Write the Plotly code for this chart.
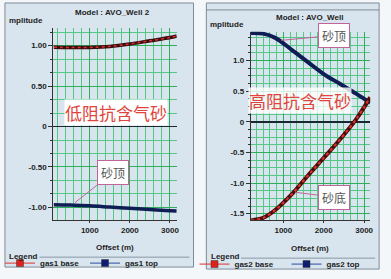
import plotly.graph_objects as go

W, H = 391, 279

# ---------------- data ----------------
offset1 = [100, 500, 1000, 1500, 2000, 2500, 3000, 3170]
gas1_base = [0.98, 0.977, 0.978, 0.99, 1.02, 1.06, 1.10, 1.12]
gas1_top = [-0.965, -0.97, -0.98, -0.995, -1.01, -1.025, -1.04, -1.045]

offset2 = [200, 500, 800, 1200, 1600, 2000, 2400, 2800, 3150]
gas2_top = [1.45, 1.44, 1.37, 1.18, 0.98, 0.78, 0.62, 0.46, 0.31]
gas2_base = [-1.61, -1.57, -1.44, -1.19, -0.885, -0.59, -0.29, 0.04, 0.40]

x_tickvals = [1000, 2000, 3000]
x_ticktext = ["1000", "2000", "3000"]
y1_tickvals = [-1.0, -0.5, 0, 0.5, 1.0]
y1_ticktext = ["-1.00", "-0.50", "0", "0.50", "1.00"]
y2_tickvals = [-1.5, -1.0, -0.5, 0, 0.5, 1.0]
y2_ticktext = ["-1.5", "-1.0", "-0.5", "0", "0.5", "1.0"]

# ---------------- helpers ----------------
def px(x):
    return x / W

def py(y):
    return 1 - y / H

FONT = "Liberation Sans, Arial, sans-serif"
CJK = "Noto Sans CJK SC, sans-serif"
tickfont = dict(family=FONT, size=8, color="#222", weight="bold")

fig = go.Figure()

# left panel curves
fig.add_trace(go.Scatter(x=offset1, y=gas1_base, mode="lines", line=dict(color="#3a0b10", width=3.5, shape="spline"),
                         xaxis="x", yaxis="y", showlegend=False, hoverinfo="skip"))
fig.add_trace(go.Scatter(x=offset1, y=gas1_base, mode="lines", line=dict(color="#d8302a", width=1.5, dash="dot", shape="spline"),
                         xaxis="x", yaxis="y", showlegend=False, hoverinfo="skip"))
fig.add_trace(go.Scatter(x=offset1, y=gas1_top, mode="lines", line=dict(color="#0f1d55", width=3.5, shape="spline"),
                         xaxis="x", yaxis="y", showlegend=False, hoverinfo="skip"))

# right panel curves
fig.add_trace(go.Scatter(x=offset2, y=gas2_top, mode="lines", line=dict(color="#0f1d55", width=4, shape="spline"),
                         xaxis="x2", yaxis="y2", showlegend=False, hoverinfo="skip"))
fig.add_trace(go.Scatter(x=offset2, y=gas2_base, mode="lines", line=dict(color="#4a0d0d", width=4, shape="spline"),
                         xaxis="x2", yaxis="y2", showlegend=False, hoverinfo="skip"))
fig.add_trace(go.Scatter(x=offset2, y=gas2_base, mode="lines", line=dict(color="#e0302a", width=2, dash="dot", shape="spline"),
                         xaxis="x2", yaxis="y2", showlegend=False, hoverinfo="skip"))

# legend entries
for name, lc, mc, leg in [("gas1 base", "#e0302a", "#e0201a", "legend"),
                          ("gas1 top", "#2a4aa0", "#0f1d70", "legend"),
                          ("gas2 base", "#e0302a", "#e0201a", "legend2"),
                          ("gas2 top", "#2a4aa0", "#0f1d70", "legend2")]:
    fig.add_trace(go.Scatter(x=[None], y=[None], mode="lines+markers", name=name,
                             line=dict(color=lc, width=1),
                             marker=dict(symbol="square", size=7, color=mc, line=dict(color="#333", width=0.5)),
                             xaxis="x" if leg == "legend" else "x2", yaxis="y" if leg == "legend" else "y2",
                             legend=leg))

grid_major = "#2fae5c"
grid_minor = "#55c886"
axis_common = dict(showline=True, linecolor="#333", linewidth=1, tickfont=tickfont,
                   showgrid=True, gridcolor=grid_major, gridwidth=1, fixedrange=True)

fig.update_layout(
    width=W, height=H, margin=dict(l=0, r=0, t=0, b=0),
    paper_bgcolor="#f4f7f9", plot_bgcolor="#ffffff",
    xaxis=dict(domain=[px(52), px(177)], range=[90, 3170], tickvals=x_tickvals, ticktext=x_ticktext,
               ticks="outside", ticklen=2, tickcolor="#333", zeroline=False,
               minor=dict(dtick=200, tick0=0, showgrid=True, gridcolor=grid_minor, gridwidth=1), anchor="y", **axis_common),
    yaxis=dict(domain=[py(222), py(28)], range=[-1.16, 1.22], tickvals=y1_tickvals, ticktext=y1_ticktext,
               ticks="outside", ticklen=4, tickcolor="#333", zeroline=True, zerolinecolor="#1b2633", zerolinewidth=1.5,
               minor=dict(dtick=1/6, tick0=0, showgrid=True, gridcolor=grid_minor, gridwidth=1,
                          ticks="outside", ticklen=2, tickcolor="#333"), anchor="x", **axis_common),
    xaxis2=dict(domain=[px(252), px(373)], range=[195, 3150], tickvals=x_tickvals, ticktext=x_ticktext,
                ticks="outside", ticklen=2, tickcolor="#333", zeroline=False,
                minor=dict(dtick=1000/6, tick0=0, showgrid=True, gridcolor=grid_minor, gridwidth=1), anchor="y2", **axis_common),
    yaxis2=dict(domain=[py(222), py(32)], range=[-1.61, 1.47], tickvals=y2_tickvals, ticktext=y2_ticktext,
                ticks="outside", ticklen=4, tickcolor="#333", zeroline=True, zerolinecolor="#1b2633", zerolinewidth=1.5,
                minor=dict(dtick=0.125, tick0=0, showgrid=True, gridcolor=grid_minor, gridwidth=1,
                           ticks="outside", ticklen=2, tickcolor="#333"), anchor="x2", **axis_common),
    legend=dict(orientation="h", x=px(-2), xanchor="left", y=py(265), yanchor="middle",
                font=dict(family=FONT, size=8, color="#222", weight="bold"), bgcolor="rgba(0,0,0,0)",
                entrywidth=40, entrywidthmode="pixels", itemwidth=30, borderwidth=0),
    legend2=dict(orientation="h", x=px(195), xanchor="left", y=py(266), yanchor="middle",
                 font=dict(family=FONT, size=8, color="#222", weight="bold"), bgcolor="rgba(0,0,0,0)",
                 entrywidth=47, entrywidthmode="pixels", itemwidth=30, borderwidth=0),
)

shapes = [
    dict(type="rect", xref="paper", yref="paper", x0=px(3), x1=px(194), y0=py(269), y1=py(3),
         fillcolor="#d9e5ee", line=dict(color="#7d8c99", width=1), layer="below"),
    dict(type="rect", xref="paper", yref="paper", x0=px(207), x1=px(382), y0=py(271), y1=py(3),
         fillcolor="#d9e5ee", line=dict(color="#7d8c99", width=1), layer="below"),
    dict(type="line", xref="paper", yref="paper", x0=px(207), x1=px(382), y0=py(10), y1=py(10),
         line=dict(color="#7d8c99", width=1), layer="below"),
    dict(type="line", xref="paper", yref="paper", x0=px(38), x1=px(190), y0=py(259), y1=py(259),
         line=dict(color="#8a98a4", width=1), layer="below"),
    dict(type="line", xref="paper", yref="paper", x0=px(242), x1=px(378), y0=py(260), y1=py(260),
         line=dict(color="#8a98a4", width=1), layer="below"),
]
fig.update_layout(shapes=shapes)

def label(text, x, y, size=8, xanchor="center", **kw):
    return dict(text=text, x=px(x), y=py(y), xref="paper", yref="paper", showarrow=False,
                xanchor=xanchor, yanchor="middle",
                font=dict(family=FONT, size=size, color="#222", weight="bold"), **kw)

anns = [
    label("Model : AVO_Well 2", 112, 13),
    label("Model : AVO_Well", 311, 18),
    label("mplitude", 5, 20.5, xanchor="left"),
    label("mplitude", 209, 24.5, xanchor="left"),
    label("Offset (m)", 114, 249),
    label("Offset (m)", 312, 250),
    label("Legend", 5, 258, xanchor="left"),
    label("Legend", 210, 258, xanchor="left"),
    dict(text="低阻抗含气砂", x=px(115), y=py(113), xref="paper", yref="paper", showarrow=False,
         xanchor="center", yanchor="middle",
         font=dict(family=CJK, size=17, color="#e0443c"), bgcolor="#ffffff", borderpad=0),
    dict(text="高阻抗含气砂", x=px(302), y=py(101), xref="paper", yref="paper", showarrow=False,
         xanchor="center", yanchor="middle",
         font=dict(family=CJK, size=17, color="#e0443c"), bgcolor="rgba(255,255,255,0.8)", borderpad=0),
]

callout = dict(showarrow=True, arrowhead=0, arrowwidth=1, arrowcolor="#c2649a",
               bordercolor="#c2649a", borderwidth=1, borderpad=3, bgcolor="#ffffff",
               xanchor="center", yanchor="middle",
               font=dict(family=CJK, size=12, color="#555"))
anns.append(dict(text="砂顶", x=630, y=-0.94, xref="x", yref="y", ax=38, ay=-30, **callout))
anns.append(dict(text="砂顶", x=950, y=1.33, xref="x2", yref="y2", ax=53, ay=-5, **callout))
anns.append(dict(text="砂底", x=1290, y=-1.15, xref="x2", yref="y2", ax=39, ay=5, **callout))
fig.update_layout(annotations=anns)

fig.write_html("out.html", config={"displayModeBar": False, "staticPlot": True},
               post_script="document.body.style.margin='0';document.body.style.overflow='hidden';")
